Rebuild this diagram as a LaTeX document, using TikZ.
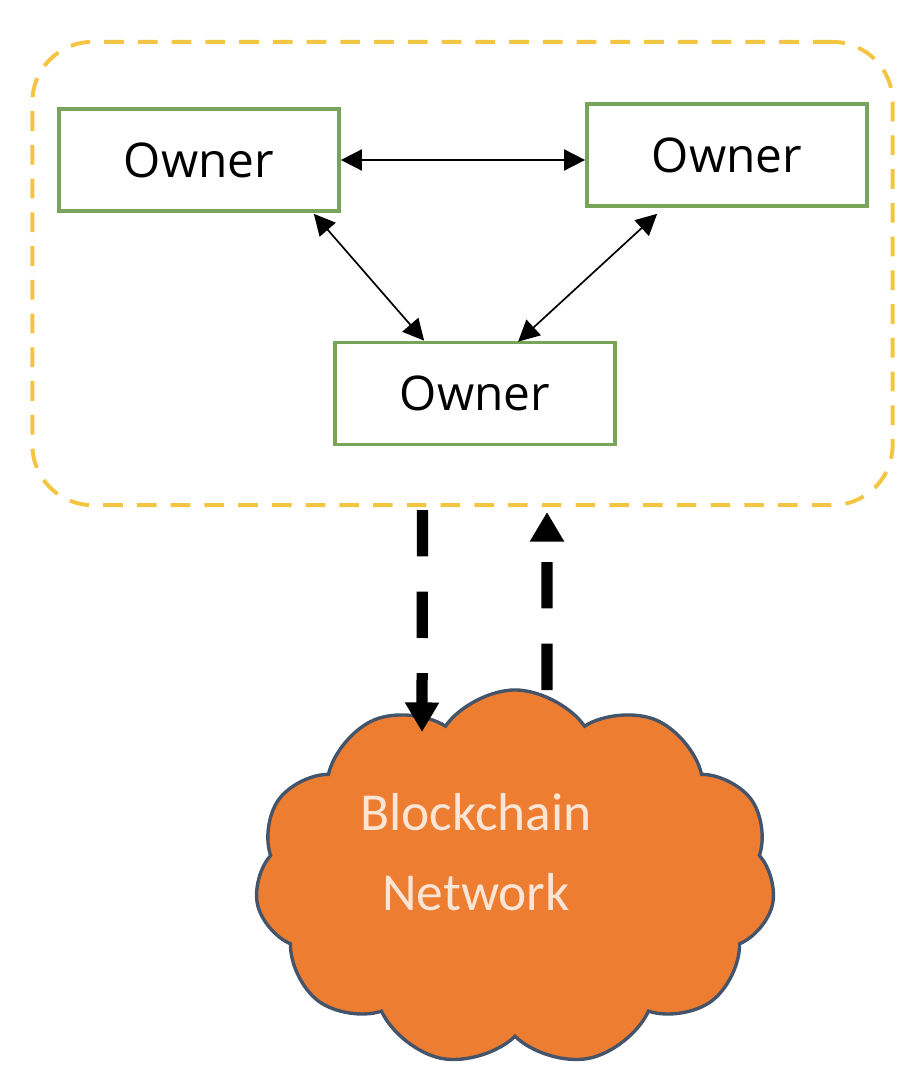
\documentclass[tikz,border=0pt]{standalone}
\usepackage{fontspec}
\setmainfont{Open Sans}
\newfontfamily\cloudfont{Carlito}
\usetikzlibrary{arrows.meta,shapes.symbols,calc}
\definecolor{groupgold}{HTML}{F4C443}
\definecolor{ownergreen}{HTML}{76A55A}
\definecolor{cloudorange}{HTML}{ED7D31}
\definecolor{cloudblue}{HTML}{44546A}
\definecolor{cloudtext}{HTML}{FBE5D6}
\begin{document}
\begin{tikzpicture}[x=0.025cm,y=-0.025cm,
  owner/.style={draw=ownergreen,line width=2.6pt,minimum width=7cm,minimum height=2.55cm,font=\fontsize{34}{40}\selectfont},
  link/.style={{Triangle[length=15pt,width=15pt]}-{Triangle[length=15pt,width=15pt]},line width=1.2pt},
  feed/.style={-{Triangle[length=21pt,width=23pt]},line width=8pt,dash pattern=on 33pt off 25pt}]
\useasboundingbox (0,0) rectangle (899,1075);
\node[draw=groupgold,line width=2.8pt,dash pattern=on 14pt off 10pt,rounded corners=1.5cm,minimum width=21.5cm,minimum height=11.575cm] (group) at (462.5,273.5) {};
\node[owner] (ownerA) at (199,160) {Owner};
\node[owner] (ownerB) at (727,155) {Owner};
\node[owner] (ownerC) at (475,393.5) {Owner};
\draw[link] (ownerA.east) -- (ownerA.east -| ownerB.west);
\draw[link] ($(ownerA.south east)+(-27,1)$) -- ($(ownerC.north west)+(91,0)$);
\draw[link] ($(ownerB.south west)+(72,6)$) -- ($(ownerC.north west)+(185,1)$);
\node[cloud,cloud puffs=11,cloud puff arc=110,aspect=1.38,draw=cloudblue,fill=cloudorange,line width=2.4pt,minimum width=13cm,minimum height=9.4cm] (cloud) at (515,878) {};
\node[text=cloudtext,font=\cloudfont\fontsize{38}{57}\selectfont,align=center] (nettext) at (476,852) {Blockchain\\Network};
\draw[feed] ($(group.south)+(-40,3)$) -- ($(cloud.center)+(-93,-146)$);
\draw[feed] ($(cloud.center)+(32,-188)$) -- ($(group.south)+(84.5,5)$);
\end{tikzpicture}
\end{document}
